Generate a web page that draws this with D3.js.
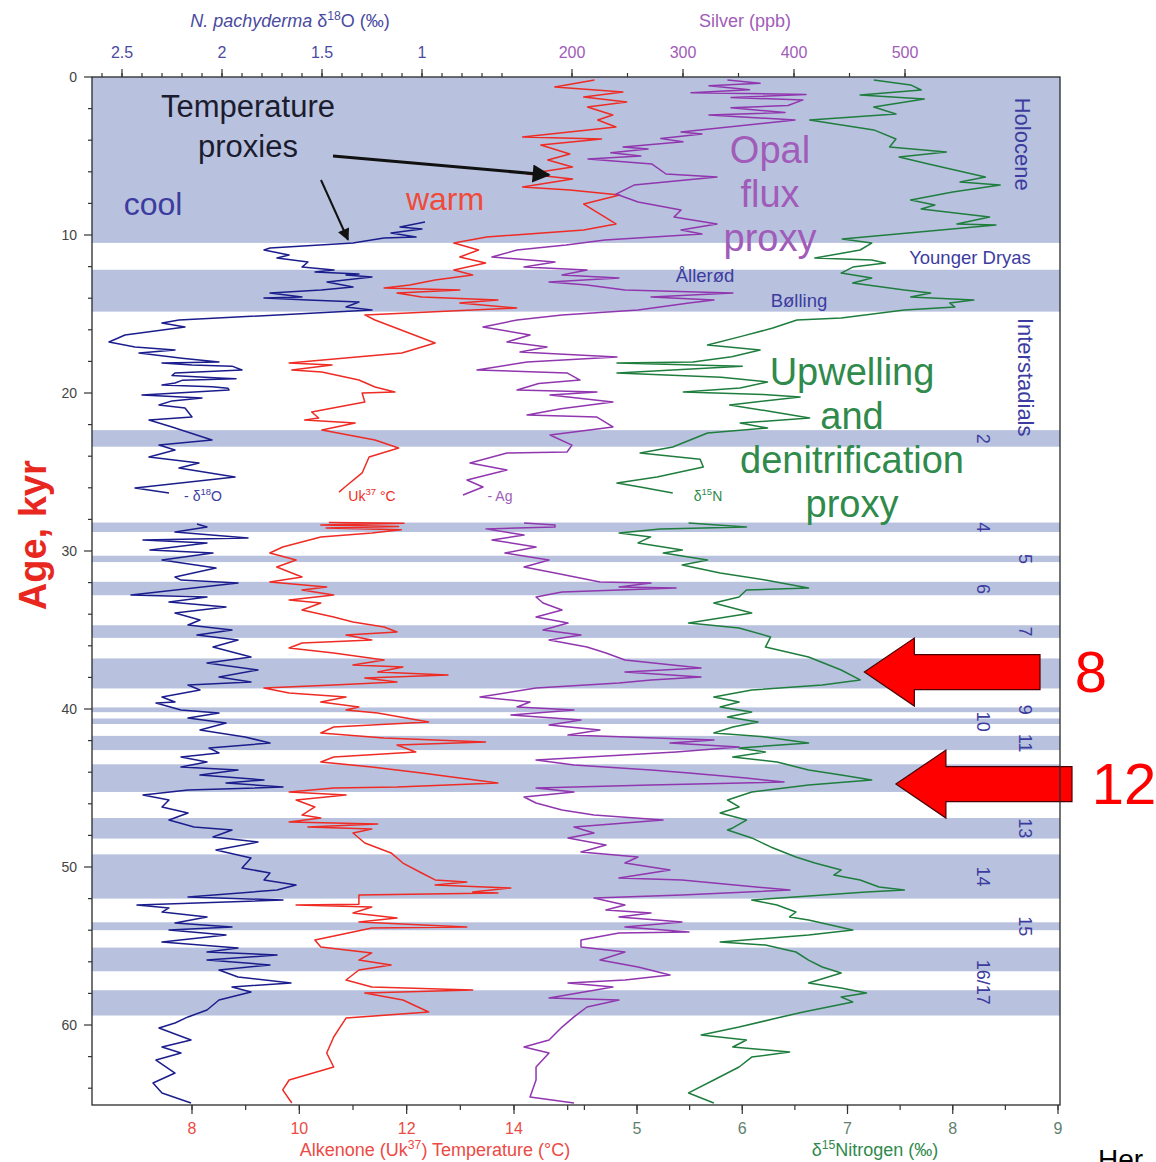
<!DOCTYPE html>
<html>
<head>
<meta charset="utf-8">
<script src="https://cdn.jsdelivr.net/npm/d3@7"></script>
<style>
  body { margin: 0; background: #fff; }
  text { font-family: "Liberation Sans", Arial, sans-serif; }
</style>
</head>
<body>
<svg id="chart" width="1156" height="1162"></svg>
<script>
// ---- data: [age kyr, value] ; null = gap in the record ----
const bands = [[0,10.5],[12.2,14.85],[22.35,23.4],[28.2,28.8],[30.3,30.7],[31.95,32.8],[34.7,35.5],
  [36.8,38.7],[39.9,40.2],[40.6,40.95],[41.7,42.6],[43.5,45.25],[46.9,48.2],[49.2,52.0],
  [53.5,54.0],[55.1,56.6],[57.8,59.4]];

const d18O = [
  [9.18,0.985],[9.49,1.11],[9.62,1.0],[9.87,1.155],[10.13,1.03],[10.19,1.19],[10.44,1.315],[10.5,1.345],
  [10.82,1.76],[10.95,1.79],[11.27,1.665],[11.46,1.725],[11.71,1.57],[12.03,1.6],[12.22,1.44],[12.34,1.535],
  [12.47,1.315],[12.53,1.38],[12.66,1.25],[12.97,1.475],[13.29,1.345],[13.48,1.505],[13.67,1.76],[13.92,1.6],
  [13.99,1.79],[14.11,1.57],[14.24,1.315],[14.56,1.38],[14.75,1.25],
  [15.38,2.215],[15.57,2.3],[15.82,2.185],[16.33,2.485],[16.77,2.565],[17.09,2.435],[17.28,2.235],[17.47,2.415],
  [17.8,2.2],[18.04,2.015],[18.1,2.3],[18.23,2.15],[18.3,1.95],[18.54,1.9],[18.73,2.235],[18.9,2.25],
  [19.05,2.015],[19.1,1.93],[19.2,2.2],[19.37,2.235],[19.5,2.3],[19.6,2.05],[19.7,1.97],[19.81,1.965],
  [20.13,2.4],[20.32,2.1],[20.5,2.25],[20.76,2.315],[20.95,2.185],[21.52,2.15],[21.71,2.365],[22.15,2.25],
  [22.97,2.05],[23.29,2.315],[23.61,2.235],[24.05,2.365],[24.43,2.115],[24.75,2.215],[25.32,1.935],[26.01,2.435],
  [26.33,2.265],
  null,
  [28.29,2.125],[28.48,2.075],[28.8,2.235],[29.18,1.87],[29.3,2.395],[29.49,2.075],[29.94,2.36],[30.13,2.045],
  [30.57,2.3],[31.08,2.03],[31.65,2.235],[31.84,2.205],[32.03,1.92],[32.78,2.455],[32.91,2.075],[33.23,2.265],
  [33.54,1.98],[33.92,2.235],[34.37,2.11],[34.68,2.17],[35.0,1.95],[35.32,2.125],[35.63,1.92],[36.08,2.045],
  [36.71,1.855],[37.09,2.075],[37.53,1.82],[37.97,2.015],[38.29,1.855],[38.48,2.17],[38.8,2.11],[39.24,2.3],
  [39.56,2.235],[39.62,2.33],[40.06,2.205],[40.25,2.015],[40.57,2.17],[40.89,1.98],[41.33,2.11],[41.77,1.885],
  [42.15,1.76],[42.47,2.065],[42.78,2.015],[43.04,2.205],[43.35,2.075],[43.67,2.205],[43.86,1.92],[44.18,2.11],
  [44.49,1.79],[44.68,1.98],[44.94,1.695],[45.13,2.17],[45.44,2.395],[45.76,2.265],[46.2,2.3],[46.58,2.17],
  [47.03,2.265],[47.47,2.14],[47.66,1.95],[48.1,2.045],[48.42,1.82],[48.92,2.03],[49.43,1.855],[50.06,1.9],
  [50.38,1.76],[50.82,1.79],[51.14,1.63],[51.46,1.725],[51.9,2.17],[52.09,1.695],[52.41,2.425],[52.59,2.265],
  [52.85,2.3],[53.16,2.075],[53.54,2.235],[53.8,1.95],[53.99,2.265],[54.3,1.98],[54.75,2.3],[55.13,1.92],
  [55.38,2.075],[55.57,1.725],[55.89,2.075],[56.2,1.76],[56.52,2.015],[56.96,1.92],[57.34,1.655],[57.59,1.95],
  [57.91,1.855],[58.42,2.015],[59.05,2.075],[59.49,2.17],[59.87,2.235],[60.19,2.315],[60.95,2.155],[61.39,2.3],
  [61.77,2.205],[62.22,2.33],[63.04,2.235],[63.67,2.345],[64.3,2.3],[64.94,2.155]
];

const alkenone = [
  [0.19,15.5],[0.63,14.76],[0.95,16.03],[1.27,15.3],[1.58,16.1],[1.9,15.37],[2.41,15.84],[2.72,15.56],
  [3.16,15.9],[3.8,14.16],[3.92,15.63],[4.3,14.5],[4.87,15.04],[5.25,14.63],[5.7,15.09],[6.14,14.24],
  [6.46,15.09],[6.96,14.16],[7.15,15.04],[7.47,15.97],[8.04,15.3],[9.3,15.9],[9.68,15.3],[10.13,13.49],
  [10.51,12.88],[10.95,13.34],[11.39,12.99],[11.77,13.47],[12.22,12.88],[12.53,13.23],[12.85,12.53],[13.16,12.06],
  [13.35,11.58],[13.48,12.99],[13.67,11.82],[13.92,12.28],[14.11,13.7],[14.3,12.99],[14.62,14.05],[15.06,11.22],
  [15.38,11.41],[16.84,12.53],[17.47,11.91],[18.1,9.81],[18.23,10.61],[18.54,9.86],[18.67,10.42],[19.18,11.11],
  [19.62,11.41],[19.94,11.78],[20.0,11.17],[20.57,11.22],[21.2,10.23],[21.58,10.36],[21.71,10.1],[21.9,11.04],
  [22.34,10.42],[22.97,11.41],[23.48,11.85],[24.05,11.3],[25.06,11.17],[25.95,10.85],[26.27,10.74],
  null,
  [28.2,10.55],[28.25,11.95],[28.35,10.4],[28.45,11.85],[28.55,10.5],[28.65,11.9],[28.86,11.35],[29.11,10.4],
  [29.75,9.69],[30.13,9.45],[30.57,9.94],[31.01,9.58],[31.65,10.05],[31.96,9.45],[32.28,10.51],[32.47,10.05],
  [32.78,10.64],[33.1,9.81],[33.29,10.4],[33.73,10.05],[34.18,10.64],[34.49,11.0],[34.81,11.58],[35.13,11.82],
  [35.32,10.87],[35.63,11.35],[35.82,10.05],[36.14,9.81],[36.46,10.64],[36.9,11.58],[37.22,11.0],[37.34,11.93],
  [37.66,11.46],[37.85,12.77],[38.04,11.22],[38.29,11.82],[38.48,10.64],[38.67,9.34],[38.99,9.81],[39.24,10.87],
  [39.56,10.4],[39.87,11.11],[40.06,10.87],[40.25,11.46],[40.82,12.41],[41.14,10.64],[41.52,10.4],[41.84,11.58],
  [42.09,13.47],[42.28,11.82],[42.72,12.17],[43.04,10.64],[43.35,10.4],[43.67,11.35],[44.05,12.28],[44.37,12.99],
  [44.68,13.7],[44.94,11.82],[45.0,10.64],[45.25,9.81],[45.44,10.87],[45.76,9.94],[46.2,10.29],[46.71,10.05],
  [46.9,10.4],[47.15,9.81],[47.28,11.46],[47.47,10.16],[47.59,11.35],[47.85,11.0],[48.48,11.22],[49.11,11.71],
  [49.75,11.93],[50.38,12.28],[50.82,12.53],[50.95,13.12],[51.14,12.53],[51.33,13.94],[51.58,13.23],[51.65,13.7],
  [51.77,11.11],[52.35,11.11],[52.41,9.94],[52.53,11.35],[52.91,11.0],[53.23,11.82],[53.48,11.11],[53.8,13.12],
  [53.86,11.35],[54.11,11.0],[54.62,10.29],[55.06,10.4],[55.44,11.35],[55.89,11.11],[56.2,11.71],[56.52,11.11],
  [57.15,10.87],[57.59,11.35],[57.78,13.23],[57.97,11.22],[58.42,11.93],[59.18,12.41],[59.56,10.87],[60.13,10.76],
  [60.76,10.64],[61.77,10.51],[62.66,10.64],[63.48,9.81],[64.11,9.69],[64.94,9.86]
];

const silver = [
  [0.19,340],[0.4,369.4],[0.55,323.4],[0.8,360],[1.0,307.2],[1.1,410.8],[1.3,343.2],[1.45,408.1],
  [1.8,394.6],[1.95,343.2],[2.25,391.9],[2.4,323.4],[2.72,400.9],[3.48,298.2],[3.61,317.1],[3.9,280],
  [4.1,300],[4.43,246],[4.56,268.5],[4.8,235],[5.0,262],[5.19,214.4],[5.51,272.1],[6.14,284.7],
  [6.33,330.6],[6.84,255.9],[7.41,239.6],[7.91,259.5],[8.42,298.2],[8.86,291.9],[9.3,330.6],[9.68,298.2],
  [9.94,317.1],[10.32,229.7],[10.63,194.6],[10.95,150.5],[11.39,127.9],[11.71,184.7],
  [12.03,156.8],[12.22,213.5],[12.53,191],[12.72,242.3],[12.97,179.3],[13.16,213.5],[13.48,247.7],[13.67,345],
  [13.92,271.2],[14.11,327.9],[14.3,305.4],[14.75,259.5],[15.06,191],
  [15.38,150.5],[15.82,119.8],[16.33,162.2],[16.77,141.4],[17.09,177.5],[17.41,153.2],[17.72,240.5],[18.04,159.5],
  [18.54,114.4],[18.73,195.5],[19.18,207.2],[19.4,170],[19.81,150.5],[19.94,222.5],[20.13,180.2],[20.57,236.9],
  [21.0,190],[21.39,159.5],[21.52,222.5],[22.15,236.9],[22.66,180.2],[23.3,200],[23.73,195.5],[23.8,141.4],
  [24.43,108.1],[24.87,141.4],[25.51,105.4],[25.95,119.8],[26.46,101.8],
  null,
  [28.23,156.8],[28.35,184.7],[28.48,184.7],[28.6,122.5],[28.99,156.8],[29.3,127.9],[29.75,167.6],[30.13,139.6],
  [30.57,179.3],[31.01,156.8],[31.39,184.7],[31.96,225.2],[32.03,271.2],[32.28,242.3],[32.34,293.7],[32.59,191],
  [32.91,167.6],[33.29,173.9],[33.73,191],[34.18,167.6],[34.56,196.4],[35.0,173.9],[35.32,208.1],[35.63,179.3],
  [36.08,213.5],[36.46,230.6],[36.9,247.7],[37.41,316.2],[37.66,247.7],[37.97,316.2],[38.16,271.2],[38.35,242.3],
  [38.67,167.6],[39.24,117.1],[39.56,162.2],[39.87,150.5],[40.06,201.8],[40.38,145],[40.7,208.1],[41.01,179.3],
  [41.33,225.2],[41.65,196.4],[41.96,327.9],[42.15,288.3],[42.41,350.5],[42.72,293.7],[43.23,167.6],[43.54,201.8],
  [43.86,271.2],[44.05,305.4],[44.37,356.8],[44.62,391],[44.81,271.2],[45.0,167.6],[45.25,201.8],[45.57,156.8],
  [45.95,167.6],[46.39,191],[46.71,219.8],[47.03,282],[47.47,201.8],[47.85,219.8],[48.16,196.4],[48.61,230.6],
  [49.05,208.1],[49.37,259.5],[49.75,247.7],[50.19,288.3],[50.7,242.3],[50.82,299.1],[51.46,396.4],[51.77,299.1],
  [51.96,219.8],[52.41,247.7],[52.72,230.6],[52.91,271.2],[53.16,242.3],[53.48,299.1],[53.8,247.7],[54.11,305.4],
  [54.18,242.3],[54.62,208.1],[55.06,208.1],[55.38,247.7],[55.89,225.2],[56.33,259.5],[56.84,288.3],[57.15,247.7],
  [57.34,196.4],[57.59,236.9],[58.29,179.3],[58.42,242.3],[58.86,213.5],[59.49,201.8],[60.13,191],[60.95,179.3],
  [61.39,156.8],[61.77,179.3],[62.66,167.6],[63.48,167.6],[64.56,162.2],[64.94,201.8]
];

const nitrogen = [
  [0.19,7.25],[0.5,7.6],[0.82,7.7],[1.14,7.12],[1.39,7.73],[1.9,7.25],[2.34,7.46],[2.72,6.64],
  [3.35,7.25],[3.92,7.46],[4.43,7.4],[4.75,7.94],[5.06,7.49],[5.51,7.77],[6.33,8.31],[6.65,8.07],
  [6.84,8.45],[7.28,8.0],[7.78,7.6],[8.1,7.83],[8.35,7.7],[8.86,8.35],[9.3,8.04],[9.37,8.41],
  [10.25,6.95],[10.51,7.23],[10.95,7.12],
  [11.46,6.69],[11.58,7.23],[11.77,7.36],[12.03,7.05],[12.41,6.94],[12.72,7.23],[13.04,7.05],[13.48,7.54],
  [13.67,7.79],[13.92,7.6],[14.11,8.2],[14.3,7.97],[14.56,8.02],[14.75,7.54],[15.25,6.94],
  [15.38,6.52],[15.89,6.29],[16.4,6.0],[16.96,5.67],[17.28,6.17],[17.7,5.9],[18.04,5.53],[18.1,4.81],
  [18.3,6.0],[18.73,4.81],[19.0,5.8],[19.3,6.24],[19.68,5.98],[19.94,5.44],[20.1,6.2],[20.25,6.55],
  [20.76,5.88],[21.2,6.3],[21.58,6.64],[21.9,5.98],[22.22,6.24],[22.53,5.67],[23.42,5.34],[23.8,5.03],
  [24.2,5.6],[24.68,5.63],[25.32,5.19],[25.7,4.81],[25.95,5.03],[26.33,5.34],
  null,
  [28.23,5.49],[28.48,6.04],[28.61,5.22],[28.86,4.83],[29.11,5.13],[29.49,5.01],[29.94,5.43],[30.13,5.25],
  [30.57,5.67],[30.89,5.43],[31.39,5.79],[31.84,6.22],[32.34,6.63],[32.47,6.04],[32.91,5.97],[33.29,5.73],
  [33.92,6.09],[34.56,5.49],[34.87,5.97],[35.44,6.27],[36.08,6.22],[36.71,6.63],[37.53,6.94],[38.16,7.12],
  [38.48,6.76],[38.8,6.09],[39.24,5.73],[39.56,5.97],[39.87,5.79],[40.19,6.09],[40.51,5.86],[40.82,6.15],
  [41.14,5.91],[41.52,5.73],[41.77,6.22],[42.15,6.63],[42.47,5.97],[42.72,6.22],[43.04,5.91],[43.35,6.33],
  [43.86,6.63],[44.18,6.94],[44.49,7.23],[44.81,6.63],[45.25,6.09],[45.76,5.86],[46.2,5.97],[46.58,5.79],
  [47.03,6.04],[47.53,5.91],[47.66,5.86],[48.16,6.09],[48.73,6.27],[49.37,6.51],[49.75,6.69],[50.19,6.94],
  [50.51,6.87],[50.82,7.12],[51.27,7.3],[51.46,7.54],[51.58,7.18],[52.09,6.09],[52.41,6.33],[52.85,6.51],
  [53.16,6.45],[53.35,6.63],[53.99,7.05],[54.3,6.63],[54.75,5.79],[54.94,6.22],[55.38,6.51],[55.89,6.63],
  [56.33,6.76],[56.71,6.94],[57.34,6.63],[57.66,6.94],[57.97,7.18],[58.23,6.94],[58.54,7.05],[59.18,6.58],
  [59.56,6.33],[60.13,5.97],[60.63,5.61],[60.95,6.04],[61.39,5.91],[61.71,6.45],[62.03,6.09],[62.66,5.97],
  [63.48,5.73],[64.3,5.49],[64.94,5.73]
];

// stage numbers on the right side: [label, age, column]
const stages = [["2",22.9,0],["4",28.5,0],["5",30.5,1],["6",32.4,0],["7",35.1,1],["8",37.7,0],
  ["9",40.05,1],["10",40.8,0],["11",42.15,1],["12",44.4,0],["13",47.55,1],["14",50.6,0],
  ["15",53.75,1],["16/17",57.3,0]];

const ageTicks = [0,10,20,30,40,50,60];
const d18OTicks = [2.5,2,1.5,1];
const silverTicks = [200,300,400,500];
const alkTicks = [8,10,12,14];
const nTicks = [5,6,7,8,9];

// ---- scales ----
const pL = 92, pR = 1060, pT = 77, pB = 1105;
const y = d3.scaleLinear([0, 65], [pT, pT + 15.8 * 65]);
const xO = d3.scaleLinear([2, 1], [222, 422]);
const xT = d3.scaleLinear([8, 14], [192, 514]);
const xAg = d3.scaleLinear([200, 500], [572, 905]);
const xN = d3.scaleLinear([5, 9], [637, 1058]);

const C = { blue: "#1b1d8c", red: "#ee2b24", purple: "#9036ae", green: "#1f7d3e",
  band: "#b8c2de", lblue: "#3c3ca0", lpurple: "#a05cb8", lgreen: "#2f8a4c" };

const svg = d3.select("#chart");
svg.append("rect").attr("width", 1156).attr("height", 1162).attr("fill", "#fff");

// bands
svg.append("g").selectAll("rect").data(bands).join("rect")
  .attr("x", pL).attr("width", pR - pL)
  .attr("y", d => y(d[0])).attr("height", d => y(d[1]) - y(d[0]))
  .attr("fill", C.band);

// rotated stage numbers (some are hidden under the arrows, like in the figure)
svg.append("g").selectAll("text").data(stages).join("text")
  .attr("transform", d => `translate(${d[2] ? 1025 : 983},${y(d[1])}) rotate(90)`)
  .attr("text-anchor", "middle").attr("dy", "0.35em")
  .attr("font-size", 18).attr("fill", C.lblue).text(d => d[0]);

function rot(txt, x, yy, size) {
  svg.append("text").attr("transform", `translate(${x},${yy}) rotate(90)`)
    .attr("text-anchor", "middle").attr("dy", "0.35em")
    .attr("font-size", size).attr("fill", C.lblue).text(txt);
}
rot("Holocene", 1023, y(4.25), 22);
rot("Interstadials", 1026, y(19), 22);

// curves
const series = [
  [d18O, xO, C.blue], [alkenone, xT, C.red], [silver, xAg, C.purple], [nitrogen, xN, C.green]
];
series.forEach(([data, sx, col]) => {
  svg.append("path").datum(data)
    .attr("fill", "none").attr("stroke", col).attr("stroke-width", 1.5)
    .attr("stroke-linejoin", "round")
    .attr("d", d3.line().defined(d => d).x(d => sx(d[1])).y(d => y(d[0])));
});

// helper for text with superscripts
function rich(x, yy, parts, opt) {
  const t = svg.append("text").attr("x", x).attr("y", yy)
    .attr("font-size", opt.size).attr("fill", opt.fill)
    .attr("text-anchor", opt.anchor || "middle");
  const up = opt.size * 0.4;
  let raised = false;
  parts.forEach(p => {
    const s = t.append("tspan").text(p.t);
    if (p.sup) {
      s.attr("dy", -up).attr("font-size", opt.size * 0.68);
      raised = true;
    } else {
      if (raised) { s.attr("dy", up); raised = false; }
      if (p.it) s.attr("font-style", "italic");
    }
  });
  return t;
}

// small series labels
rich(203, 501, [{ t: "- δ" }, { t: "18", sup: 1 }, { t: "O" }], { size: 14, fill: C.lblue });
rich(372, 501, [{ t: "Uk" }, { t: "37", sup: 1 }, { t: " °C" }], { size: 14, fill: C.red });
rich(500, 501, [{ t: "- Ag" }], { size: 14, fill: C.lpurple });
rich(708, 501, [{ t: "δ" }, { t: "15", sup: 1 }, { t: "N" }], { size: 14, fill: C.lgreen });

// big annotations
const big = (txt, x, yy, size, fill) => svg.append("text").attr("x", x).attr("y", yy)
  .attr("text-anchor", "middle").attr("font-size", size).attr("fill", fill).text(txt);
big("Temperature", 248, 117, 31, "#1c1c30");
big("proxies", 248, 157, 31, "#1c1c30");
big("cool", 153, 215, 32, C.lblue);
big("warm", 445, 210, 32, "#ef4a3a");
["Opal", "flux", "proxy"].forEach((s, i) => big(s, 770, 163 + i * 44, 38, C.lpurple));
["Upwelling", "and", "denitrification", "proxy"].forEach((s, i) => big(s, 852, 385 + i * 44, 38, C.lgreen));
big("Younger Dryas", 970, 264, 18.5, C.lblue);
big("Ållerød", 705, 282, 18.5, C.lblue);
big("Bølling", 799, 307, 18.5, C.lblue);

// black arrows
svg.append("defs").append("marker").attr("id", "ah").attr("viewBox", "0 0 10 10")
  .attr("refX", 9).attr("refY", 5).attr("markerWidth", 9).attr("markerHeight", 6)
  .attr("markerUnits", "strokeWidth").attr("orient", "auto")
  .append("path").attr("d", "M0,0L10,5L0,10Z").attr("fill", "#111");
svg.append("line").attr("x1", 333).attr("y1", 156).attr("x2", xT(14.65)).attr("y2", y(6.2))
  .attr("stroke", "#111").attr("stroke-width", 3).attr("marker-end", "url(#ah)");
svg.append("line").attr("x1", 321).attr("y1", 180).attr("x2", xO(1.37)).attr("y2", y(10.3))
  .attr("stroke", "#111").attr("stroke-width", 2).attr("marker-end", "url(#ah)");

// red block arrows pointing at δ15N peaks 8 and 12
function blockArrow(tx, ty, bodyEnd, lbl, lx) {
  const hl = 50, hh = 34, bh = 17.5;
  svg.append("path")
    .attr("d", `M${tx},${ty}L${tx + hl},${ty - hh}L${tx + hl},${ty - bh}L${bodyEnd},${ty - bh}` +
      `L${bodyEnd},${ty + bh}L${tx + hl},${ty + bh}L${tx + hl},${ty + hh}Z`)
    .attr("fill", "#ff0000").attr("stroke", "#4a0000").attr("stroke-width", 1.2);
  svg.append("text").attr("x", lx).attr("y", ty + 20).attr("text-anchor", "middle")
    .attr("font-family", "'Liberation Serif', 'DejaVu Serif', serif")
    .attr("font-size", 58).attr("fill", "#ff0000").text(lbl);
}
blockArrow(xN(7.16), y(37.66), 1040, "8", 1091);
blockArrow(xN(7.46), y(44.75), 1072, "12", 1124);

// frame
svg.append("rect").attr("x", pL).attr("y", pT).attr("width", pR - pL).attr("height", pB - pT)
  .attr("fill", "none").attr("stroke", "#2a2a2a").attr("stroke-width", 1.3);

// ---- axes ----
function ticks(vals, sx, yy, len, dir) {
  svg.append("g").selectAll("line").data(vals).join("line")
    .attr("x1", d => sx(d)).attr("x2", d => sx(d))
    .attr("y1", yy).attr("y2", yy + dir * len)
    .attr("stroke", "#333").attr("stroke-width", 1.2);
}
// top: δ18O and silver
ticks(d3.range(6, 27).map(d => d / 10), xO, pT, 4, -1);
ticks(d18OTicks, xO, pT, 8, -1);
ticks(d3.range(200, 501, 50), xAg, pT, 4, -1);
ticks(silverTicks, xAg, pT, 8, -1);
svg.append("g").selectAll("text").data(d18OTicks).join("text")
  .attr("x", d => xO(d)).attr("y", 58).attr("text-anchor", "middle")
  .attr("font-size", 16).attr("fill", "#4a4aa0").text(d => d);
svg.append("g").selectAll("text").data(silverTicks).join("text")
  .attr("x", d => xAg(d)).attr("y", 58).attr("text-anchor", "middle")
  .attr("font-size", 16).attr("fill", C.lpurple).text(d => d);
rich(290, 27, [{ t: "N. pachyderma", it: 1 }, { t: " δ" }, { t: "18", sup: 1 }, { t: "O (‰)" }],
  { size: 18, fill: "#4a4aa0" });
rich(745, 27, [{ t: "Silver (ppb)" }], { size: 18, fill: C.lpurple });

// bottom: alkenone and δ15N
ticks(d3.range(8, 16), xT, pB, 5, 1);
ticks(alkTicks, xT, pB, 9, 1);
ticks(d3.range(4.5, 9.01, 0.5), xN, pB, 5, 1);
ticks(nTicks, xN, pB, 9, 1);
svg.append("g").selectAll("text").data(alkTicks).join("text")
  .attr("x", d => xT(d)).attr("y", 1134).attr("text-anchor", "middle")
  .attr("font-size", 16).attr("fill", "#ec4a44").text(d => d);
svg.append("g").selectAll("text").data(nTicks).join("text")
  .attr("x", d => xN(d)).attr("y", 1134).attr("text-anchor", "middle")
  .attr("font-size", 16).attr("fill", "#5f7f6f").text(d => d);
rich(435, 1156, [{ t: "Alkenone (Uk" }, { t: "37", sup: 1 }, { t: ") Temperature (°C)" }],
  { size: 18, fill: "#ec4a44" });
rich(875, 1156, [{ t: "δ" }, { t: "15", sup: 1 }, { t: "Nitrogen (‰)" }], { size: 18, fill: C.lgreen });

// left: age
svg.append("g").selectAll("line").data(d3.range(0, 65, 2)).join("line")
  .attr("x1", pL).attr("x2", d => pL - (d % 10 === 0 ? 8 : 4))
  .attr("y1", d => y(d)).attr("y2", d => y(d)).attr("stroke", "#333").attr("stroke-width", 1.2);
svg.append("g").selectAll("text").data(ageTicks).join("text")
  .attr("x", 77).attr("y", d => y(d)).attr("dy", "0.35em").attr("text-anchor", "end")
  .attr("font-size", 14).attr("fill", "#444").text(d => d);
svg.append("text").attr("transform", `translate(46,${y(29)}) rotate(-90)`)
  .attr("text-anchor", "middle").attr("font-size", 38).attr("font-weight", "bold")
  .attr("fill", "#e8281f").text("Age, kyr");

// caption cut off at the lower right corner, as in the source image
svg.append("text").attr("x", 1098).attr("y", 1169)
  .attr("font-family", "'Liberation Serif', serif").attr("font-size", 28).attr("fill", "#000").text("Her");
</script>
</body>
</html>
